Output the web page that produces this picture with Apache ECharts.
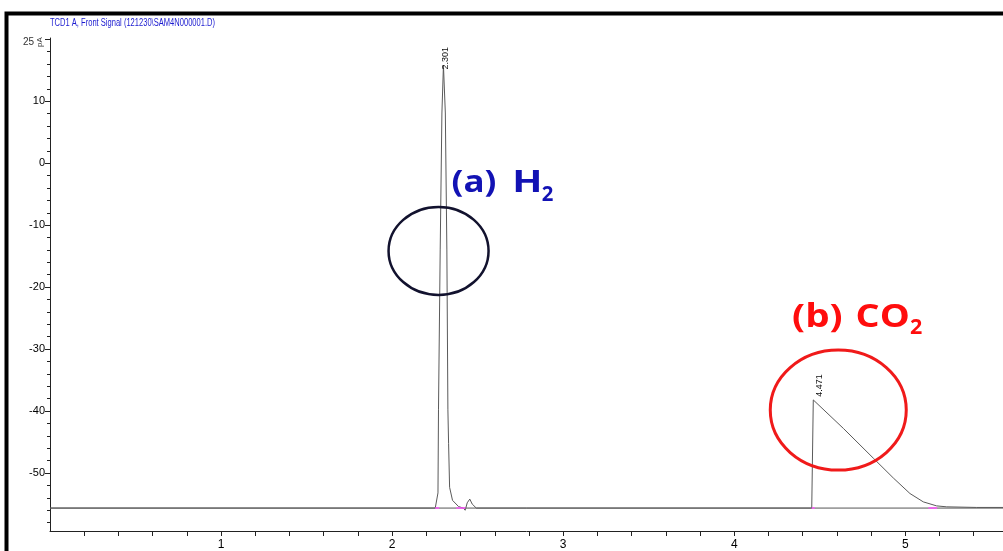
<!DOCTYPE html>
<html><head><meta charset="utf-8">
<script src="https://cdn.jsdelivr.net/npm/echarts@6/dist/echarts.min.js"></script>
<style>html,body{margin:0;padding:0;background:#fff}#c{width:1003px;height:551px}</style>
</head><body><div id="c"></div>
<script>
// ---- data ----
const chartTitle = 'TCD1 A, Front Signal (121230\\SAM4N000001.D)';
const signalTime  = [0, 2.252, 2.268, 2.271, 2.281, 2.291, 2.300, 2.311, 2.320, 2.326, 2.330, 2.336, 2.353, 2.388, 2.416, 2.427, 2.439, 2.454, 2.468, 2.492, 4.453, 4.462, 4.638, 4.813, 4.930, 5.027, 5.105, 5.183, 5.242, 5.417, 5.571];
const signalValue = [-55.65, -55.65, -53.2, -39.8, -14.0, 8.1, 15.8, 8.1, -14.0, -39.8, -45.2, -52.3, -54.4, -55.4, -55.65, -56.0, -54.8, -54.2, -55.0, -55.65, -55.65, -38.2, -42.8, -47.6, -50.8, -53.3, -54.65, -55.3, -55.45, -55.55, -55.55];
const baselineValue = -55.65;
const peakTimes  = [2.301, 4.471];
const peakApex   = [15.8, -38.2];
const peakLabels = ['2.301', '4.471'];
const integrationStart = [2.252, 2.375, 4.453, 5.135];
const integrationEnd   = [2.275, 2.428, 4.470, 5.186];
const xTickLabels = [1, 2, 3, 4, 5];
const xTicks = [0.2, 0.4, 0.6, 0.8, 1, 1.2, 1.4, 1.6, 1.8, 2, 2.2, 2.4, 2.6, 2.8, 3, 3.2, 3.4, 3.6, 3.8, 4, 4.2, 4.4, 4.6, 4.8, 5, 5.2, 5.4];
const yTickLabels = [-50, -40, -30, -20, -10, 0, 10];
const yMajorTicks = [-50, -40, -30, -20, -10, 0, 10, 20];
const yMinorTicks = [-58, -56, -54, -52, -48, -46, -44, -42, -38, -36, -34, -32, -28, -26, -24, -22, -18, -16, -14, -12, -8, -6, -4, -2, 2, 4, 6, 8, 12, 14, 16, 18];
const yTopText = '25';
const yUnit = 'pA';
const annotations = [
  { label: '(a)', main: 'H', sub: '2', color: '#1212b4', ring: '#12122e', cx: 2.2714, cy: -14.16 },
  { label: '(b)', main: 'CO', sub: '2', color: '#ff0d0d', ring: '#f01a1a', cx: 4.608, cy: -39.84 }
];

const X_MIN = 0, X_MAX = 5.571, Y_MIN = -59.35, Y_MAX = 20.2;

const chart = echarts.init(document.getElementById('c'), null, { renderer: 'canvas' });
const axisFont = '"Liberation Sans Narrow","Liberation Sans",Arial,sans-serif';

const signalData = signalTime.map((t, i) => [t, signalValue[i]]);
const series = [
  { type: 'line', name: 'baseline', data: [[X_MIN, baselineValue], [X_MAX, baselineValue]], symbol: 'none', lineStyle: { color: '#555', width: 1 }, z: 2, silent: true },
  { type: 'line', name: 'signal', data: signalData, symbol: 'none', lineStyle: { color: '#5a5a5a', width: 1 }, z: 3, silent: true }
];
integrationStart.forEach((s, i) => {
  series.push({ type: 'line', data: [[s, baselineValue], [integrationEnd[i], baselineValue]], symbol: 'none', lineStyle: { color: '#ff55ff', width: 1.5 }, z: 4, silent: true });
});

chart.setOption({
  animation: false,
  backgroundColor: '#fff',
  grid: { left: 50, right: 0, top: 38, bottom: 20, containLabel: false, outerBoundsMode: 'none' },
  xAxis: {
    type: 'value', min: X_MIN, max: X_MAX,
    axisLine: { show: true, onZero: false, lineStyle: { color: '#222', width: 1 } },
    axisTick: { show: true, length: 5, customValues: xTicks, lineStyle: { color: '#222' } },
    axisLabel: { customValues: xTickLabels, color: '#000', fontSize: 12, fontFamily: axisFont, margin: 8 },
    splitLine: { show: false }
  },
  yAxis: [
    {
      type: 'value', min: Y_MIN, max: Y_MAX, position: 'left',
      axisLine: { show: true, onZero: false, lineStyle: { color: '#222', width: 1 } },
      axisTick: { show: true, length: 3, customValues: yMinorTicks, lineStyle: { color: '#222' } },
      axisLabel: { show: false },
      splitLine: { show: false }
    },
    {
      type: 'value', min: Y_MIN, max: Y_MAX, position: 'left', offset: 0,
      axisLine: { show: false, onZero: false },
      axisTick: { show: true, length: 5, customValues: yMajorTicks, lineStyle: { color: '#222' } },
      axisLabel: { customValues: yTickLabels, color: '#000', fontSize: 11, fontFamily: axisFont, margin: 5 },
      splitLine: { show: false }
    }
  ],
  series: series
});

function px(t, v) { return chart.convertToPixel({ xAxisIndex: 0, yAxisIndex: 0 }, [t, v]); }

const cv = document.createElement('canvas').getContext('2d');
function inkWidth(text, font) {
  cv.font = font;
  const m = cv.measureText(text);
  const w = (m.actualBoundingBoxRight || 0) + (m.actualBoundingBoxLeft || 0);
  return w > 0 ? w : m.width;
}

// title width fit
const titleFont = '10px "Liberation Sans Narrow","Liberation Sans",Arial,sans-serif';
cv.font = titleFont;
const titleScale = 165 / cv.measureText(chartTitle).width;

const g = [];
g.push({ type: 'rect', shape: { x: 6.5, y: 13.5, width: 1100, height: 600 }, style: { fill: 'none', stroke: '#000', lineWidth: 4 }, z: 100, silent: true });
g.push({ type: 'text', x: 50, y: 23, scaleX: titleScale, style: { text: chartTitle, font: titleFont, fill: '#1a1ad0', align: 'left', verticalAlign: 'middle', textAlign: 'left', textVerticalAlign: 'middle' }, z: 100 });
g.push({ type: 'text', x: 34, y: 42, style: { text: yTopText, font: '10px ' + axisFont, fill: '#333', align: 'right', verticalAlign: 'middle', textAlign: 'right', textVerticalAlign: 'middle' }, z: 100 });
g.push({ type: 'text', x: 40, y: 42, rotation: Math.PI / 2, style: { text: yUnit, font: '8px ' + axisFont, fill: '#333', align: 'center', verticalAlign: 'middle', textAlign: 'center', textVerticalAlign: 'middle' }, z: 100 });
const labelOffsets = [[2, -7], [4.5, -14.5]];
peakTimes.forEach((t, i) => {
  const p = px(t, peakApex[i]);
  g.push({ type: 'text', x: p[0] + labelOffsets[i][0], y: p[1] + labelOffsets[i][1], rotation: Math.PI / 2,
    style: { text: peakLabels[i], font: '9px ' + axisFont, fill: '#111', align: 'center', verticalAlign: 'middle', textAlign: 'center', textVerticalAlign: 'middle' }, z: 100 });
});
const ringSize = [[50, 44, 2.5], [68, 60, 3]];
// left x, cap-middle y, target ink width
const textPos = [
  { lab: [452.7, 183.5, 42.3], main: [515, 183.5, 25], sub: [541.7, 195, 11.6], fs: 30, sfs: 21 },
  { lab: [793.3, 317.5, 48.3], main: [856.7, 317.5, 51.3], sub: [910, 328, 11.7], fs: 32, sfs: 22 }
];
function pushText(text, pos, font, color) {
  cv.font = font;
  const m = cv.measureText(text);
  const left = m.actualBoundingBoxLeft || 0;
  const s = pos[2] / inkWidth(text, font);
  g.push({ type: 'text', x: pos[0] + left * s, y: pos[1], scaleX: s, style: { text: text, font: font, fill: color, align: 'left', verticalAlign: 'middle', textAlign: 'left', textVerticalAlign: 'middle' }, z: 95 });
}
annotations.forEach((a, i) => {
  const c = px(a.cx, a.cy);
  g.push({ type: 'ellipse', shape: { cx: c[0], cy: c[1], rx: ringSize[i][0], ry: ringSize[i][1] }, style: { fill: 'none', stroke: a.ring, lineWidth: ringSize[i][2] }, z: 90, silent: true });
  const tp = textPos[i];
  const f = 'bold ' + tp.fs + 'px "Open Sans",sans-serif';
  const sf = 'bold ' + tp.sfs + 'px "Open Sans",sans-serif';
  pushText(a.label, tp.lab, f, a.color);
  pushText(a.main, tp.main, f, a.color);
  pushText(a.sub, tp.sub, sf, a.color);
});
chart.setOption({ graphic: g });
</script>
</body></html>
